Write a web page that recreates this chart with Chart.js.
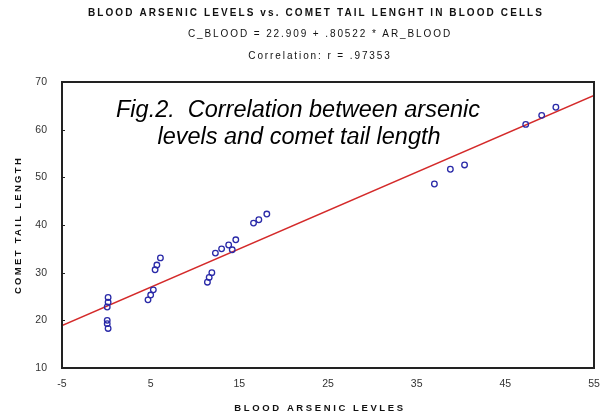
<!DOCTYPE html>
<html>
<head>
<meta charset="utf-8">
<script src="https://cdn.jsdelivr.net/npm/chart.js@4"></script>
<style>
  html, body { margin: 0; padding: 0; background: #fff; }
  #wrap { width: 604px; height: 419px; }
</style>
</head>
<body>
<div id="wrap"><canvas id="scatter" width="604" height="419"></canvas></div>
<script>
// values
const arsenic = [0.2, 0.2, 0.1, 0.1, 0.1, 0.2,
                 4.7, 5.0, 5.3, 5.5, 5.7, 6.1,
                 11.4, 11.6, 11.9,
                 12.3, 13.0, 13.8, 14.2, 14.6,
                 16.6, 17.2, 18.1,
                 37.0, 38.8, 40.4,
                 47.3, 49.1, 50.7];
const tailLength = [24.8, 23.8, 22.8, 20.0, 19.3, 18.3,
                    24.3, 25.3, 26.4, 30.6, 31.6, 33.1,
                    28.0, 29.0, 30.0,
                    34.1, 35.0, 35.8, 34.8, 36.9,
                    40.4, 41.1, 42.3,
                    48.6, 51.7, 52.6,
                    61.1, 63.0, 64.7];
// fitted line, ends read where it meets the frame
const fitX = [-5, 55];
const fitY = [18.9, 67.2];

const xTicks = [-5, 5, 15, 25, 35, 45, 55];
const yTicks = [10, 20, 30, 40, 50, 60, 70];

const titleLines = [
    'BLOOD ARSENIC LEVELS vs. COMET TAIL LENGHT IN BLOOD CELLS',
    'C_BLOOD = 22.909 + .80522 * AR_BLOOD',
    'Correlation: r = .97353'
];
const noteLines = [
    'Fig.2.  Correlation between arsenic',
    'levels and comet tail length'
];
const xTitle = 'BLOOD ARSENIC LEVLES';
const yTitle = 'COMET TAIL LENGTH';

const points = arsenic.map((x, i) => ({ x: x, y: tailLength[i] }));
const fitLine = fitX.map((x, i) => ({ x: x, y: fitY[i] }));

const FAM = '"Liberation Sans", Arial, sans-serif';

// font size that makes a line come out at a given width
function fitFont(ctx, text, style, width) {
    ctx.font = style + ' 20px ' + FAM;
    const w = ctx.measureText(text).width;
    return style + ' ' + (20 * width / w).toFixed(2) + 'px ' + FAM;
}

// titles, the italic note, axis titles and the box round the plot
const decor = {
    id: 'decor',
    afterDraw(chart) {
        const ctx = chart.ctx;
        const area = chart.chartArea;
        ctx.save();
        ctx.strokeStyle = '#222';
        ctx.lineWidth = 2;
        ctx.strokeRect(area.left, area.top, area.right - area.left, area.bottom - area.top);

        // little inward ticks on the left side
        const ys = chart.scales.y;
        ctx.lineWidth = 1;
        yTicks.slice(1, -1).forEach(v => {
            const py = Math.round(ys.getPixelForValue(v)) + 0.5;
            ctx.beginPath();
            ctx.moveTo(area.left, py);
            ctx.lineTo(area.left + 3, py);
            ctx.stroke();
        });

        ctx.fillStyle = '#111';
        ctx.textAlign = 'center';
        ctx.textBaseline = 'middle';
        ctx.letterSpacing = '2.1px';
        ctx.font = 'bold 10px ' + FAM;
        ctx.fillText(titleLines[0], 316, 13);
        ctx.letterSpacing = '1.9px';
        ctx.font = '10px ' + FAM;
        ctx.fillText(titleLines[1], 320, 34);
        ctx.fillText(titleLines[2], 320, 56);

        ctx.font = 'bold 9.5px ' + FAM;
        ctx.letterSpacing = '2.6px';
        ctx.fillText(xTitle, 320, 408);
        ctx.letterSpacing = '2.3px';
        ctx.save();
        ctx.translate(18, 225);
        ctx.rotate(-Math.PI / 2);
        ctx.fillText(yTitle, 0, 0);
        ctx.restore();

        ctx.letterSpacing = '0px';
        ctx.fillStyle = '#000';
        ctx.font = fitFont(ctx, noteLines[0], 'italic', 364);
        ctx.fillText(noteLines[0], 298, 110);
        ctx.fillText(noteLines[1], 299, 137);
        ctx.restore();
    }
};

const tickFont = { family: FAM, size: 10.5 };

new Chart(document.getElementById('scatter'), {
    type: 'scatter',
    data: {
        datasets: [{
            label: 'C_BLOOD',
            data: points,
            pointStyle: 'circle',
            pointRadius: 2.8,
            pointBorderWidth: 1.3,
            pointBorderColor: '#2a2aa8',
            pointBackgroundColor: 'rgba(0,0,0,0)',
            order: 1
        }, {
            type: 'line',
            label: 'fit',
            data: fitLine,
            borderColor: '#d42a2a',
            borderWidth: 1.5,
            pointRadius: 0,
            fill: false,
            order: 2
        }]
    },
    options: {
        responsive: false,
        animation: false,
        layout: { padding: { top: 82, right: 10, left: 0, bottom: 0 } },
        plugins: {
            legend: { display: false },
            tooltip: { enabled: false }
        },
        scales: {
            x: {
                type: 'linear',
                min: -5,
                max: 55,
                afterBuildTicks: s => { s.ticks = xTicks.map(v => ({ value: v })); },
                afterFit: s => { s.height = 51; s.paddingLeft = 0; s.paddingRight = 0; },
                grid: { display: false, drawTicks: false },
                border: { display: false },
                ticks: { color: '#333', font: tickFont, padding: 10 }
            },
            y: {
                type: 'linear',
                min: 10,
                max: 70,
                afterBuildTicks: s => { s.ticks = yTicks.map(v => ({ value: v })); },
                afterFit: s => { s.width = 62; },
                grid: { display: false, drawTicks: false },
                border: { display: false },
                ticks: { color: '#333', font: tickFont, padding: 15 }
            }
        }
    },
    plugins: [decor]
});
</script>
</body>
</html>
